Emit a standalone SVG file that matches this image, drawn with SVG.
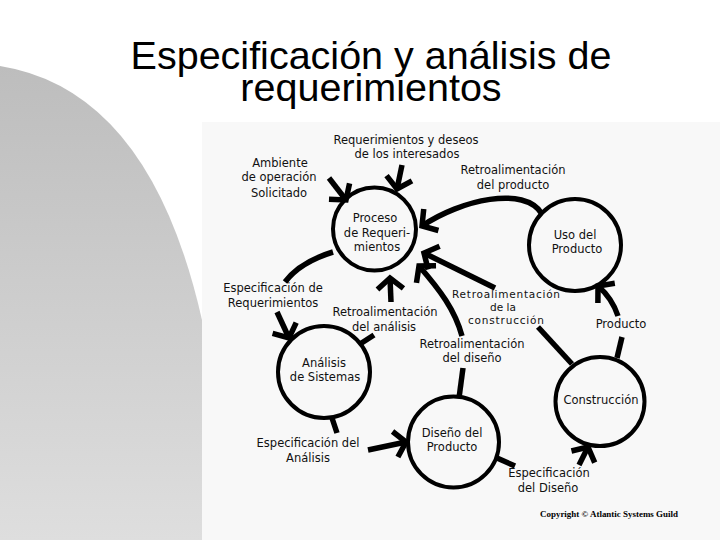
<svg xmlns="http://www.w3.org/2000/svg" width="720" height="540" viewBox="0 0 720 540">
<defs>
  <linearGradient id="g" x1="0" y1="0" x2="0" y2="1">
    <stop offset="0" stop-color="#bdbdbd"/>
    <stop offset="1" stop-color="#dedede"/>
  </linearGradient>
  <marker id="ah" markerUnits="userSpaceOnUse" orient="auto" viewBox="-20 -20 40 40" markerWidth="40" markerHeight="40" refX="0" refY="0" overflow="visible">
    <path d="M-11,-13 L0,0 L-11,13" fill="none" stroke="#000" stroke-width="5.5"/>
  </marker>
  <style>
    .ttl{font-family:"Liberation Sans",Arial,sans-serif;font-size:39.5px;fill:#000;text-anchor:middle}
    .t{font-family:"DejaVu Sans",Verdana,sans-serif;font-size:11.5px;fill:#111;text-anchor:middle}
    .s{font-size:10.5px}
    .n{fill:none;stroke:#000;stroke-width:4}
    .c{fill:none;stroke:#000;stroke-width:5.5}
    .a{marker-end:url(#ah)}
    .cp{font-family:"Liberation Serif","Times New Roman",serif;font-size:9px;font-weight:bold;fill:#000}
  </style>
</defs>
<rect width="720" height="540" fill="#fff"/>
<path d="M0,66 Q150,90 202,320 L202,540 L0,540 Z" fill="url(#g)"/>
<rect x="202" y="122" width="518" height="418" fill="#f8f8f8"/>

<g id="title">
  <text class="ttl" x="371" y="69">Especificación y análisis de</text>
  <text class="ttl" x="371" y="101">requerimientos</text>
</g>

<g id="connectors">
  <path class="c a" d="M329,178 L346,200"/>
  <path class="c a" d="M402,165 L397,189"/>
  <path class="c a" d="M542,214 C525,185 460,200 422,226"/>
  <path class="c a" d="M495,288 L424,253"/>
  <path class="c" d="M538,327 L572,364"/>
  <path class="c" d="M459,398 L463,368"/>
  <path class="c a" d="M462,336 C455,310 440,290 419,266"/>
  <path class="c" d="M360,344 L374,335"/>
  <path class="c a" d="M391,302 L390,278"/>
  <path class="c" d="M333,252 Q300,262 285,282"/>
  <path class="c a" d="M277,312 L289,338"/>
  <path class="c" d="M332,418 L337,433"/>
  <path class="c a" d="M368,450 L406,442"/>
  <path class="c" d="M497,458 L515,466"/>
  <path class="c a" d="M579,465 L588,447"/>
  <path class="c" d="M617,358 L622,337"/>
  <path class="c a" d="M618,316 Q612,298 598,286"/>
</g>

<g id="proceso">
  <circle class="n" cx="374.5" cy="229" r="41.5"/>
  <text class="t" x="375" y="222">Proceso</text>
  <text class="t" x="377" y="237">de Requeri-</text>
  <text class="t" x="377" y="251">mientos</text>
</g>
<g id="uso">
  <circle class="n" cx="575" cy="245" r="46"/>
  <text class="t" x="575" y="239">Uso del</text>
  <text class="t" x="577" y="253">Producto</text>
</g>
<g id="analisis">
  <circle class="n" cx="324" cy="372" r="46"/>
  <text class="t" x="324" y="367">Análisis</text>
  <text class="t" x="325" y="381">de Sistemas</text>
</g>
<g id="construccion">
  <circle class="n" cx="600" cy="401.5" r="44.5"/>
  <text class="t" x="601" y="404">Construcción</text>
</g>
<g id="diseno">
  <circle class="n" cx="453.5" cy="442" r="45.5"/>
  <text class="t" x="452" y="437">Diseño del</text>
  <text class="t" x="452" y="451">Producto</text>
</g>

<g id="labels">
  <text class="t" x="406" y="144">Requerimientos y deseos</text>
  <text class="t" x="407" y="158">de los  interesados</text>
  <text class="t" x="280" y="167">Ambiente</text>
  <text class="t" x="279" y="181">de operación</text>
  <text class="t" x="279" y="197">Solicitado</text>
  <text class="t" x="513" y="174">Retroalimentación</text>
  <text class="t" x="513" y="189">del producto</text>
  <text class="t" x="273" y="292">Especificación de</text>
  <text class="t" x="273" y="307">Requerimientos</text>
  <text class="t" x="385" y="316">Retroalimentación</text>
  <text class="t" x="384" y="331">del análisis</text>
  <text class="t s" x="506" y="298" textLength="108" lengthAdjust="spacing">Retroalimentación</text>
  <text class="t s" x="503" y="311">de la</text>
  <text class="t s" x="506" y="324" textLength="76" lengthAdjust="spacing">construcción</text>
  <text class="t" x="621" y="328">Producto</text>
  <text class="t" x="472" y="348">Retroalimentación</text>
  <text class="t" x="472" y="362">del diseño</text>
  <text class="t" x="308" y="447">Especificación del</text>
  <text class="t" x="308" y="462">Análisis</text>
  <text class="t" x="549" y="477">Especificación</text>
  <text class="t" x="548" y="492">del Diseño</text>
  <text class="cp" x="540" y="517" textLength="138" lengthAdjust="spacingAndGlyphs">Copyright © Atlantic Systems Guild</text>
</g>
</svg>
